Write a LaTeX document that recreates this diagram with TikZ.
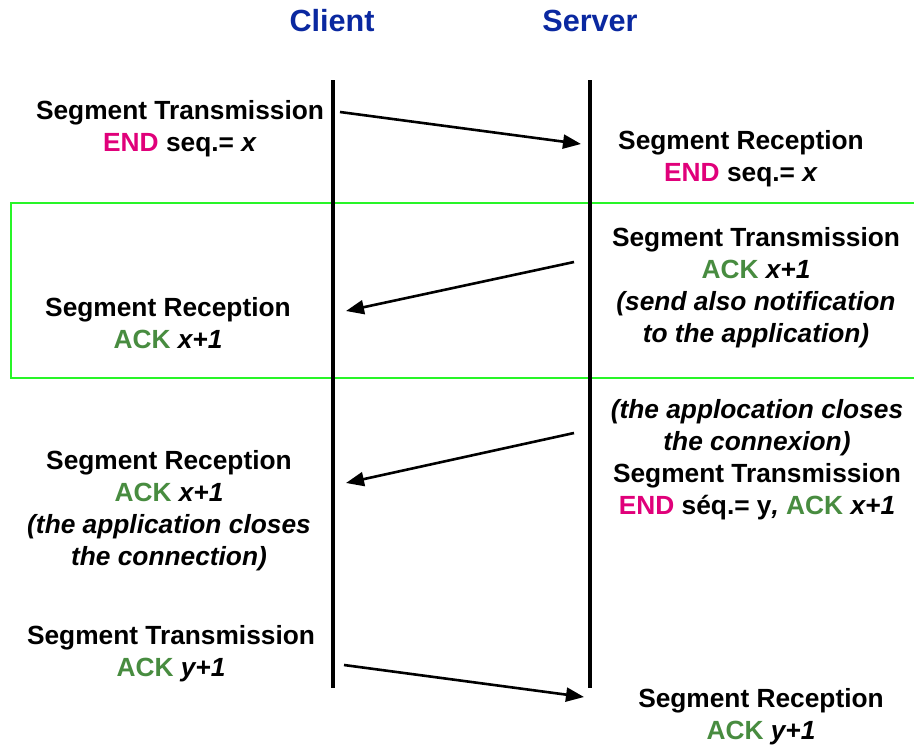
\documentclass[tikz,border=0pt]{standalone}
\usepackage{fontspec}
\setmainfont{Liberation Sans}
\usetikzlibrary{arrows.meta}
\definecolor{endc}{RGB}{224,0,122}
\definecolor{ackc}{RGB}{72,140,64}
\definecolor{titlec}{RGB}{10,40,160}
\definecolor{framec}{RGB}{40,245,40}
\newcommand{\END}{\textcolor{endc}{END}}
\newcommand{\ACK}{\textcolor{ackc}{ACK}}
\begin{document}
\begin{tikzpicture}[x=1pt,y=-1pt,
  lbl/.style={align=center,inner sep=0pt,font=\fontsize{26.3}{32}\selectfont\bfseries},
  ttl/.style={inner sep=0pt,text=titlec,font=\fontsize{30.6}{36}\selectfont\bfseries},
  life/.style={line width=3.5pt},
  msg/.style={line width=2.6pt,-{Triangle[length=18pt,width=14pt]}},
  frame/.style={draw=framec,line width=2.4pt}]
\useasboundingbox (0,0) rectangle (914,745);
% green frame
\draw[frame] (11,203) rectangle (935,378);
% titles
\node[ttl] (client) at (332,21) {Client};
\node[ttl] (server) at (590,21) {Server};
% lifelines
\coordinate (ct) at (333,80); \coordinate (cb) at (333,688);
\coordinate (st) at (590,80); \coordinate (sb) at (590,688);
\draw[life] (ct) -- (cb);
\draw[life] (st) -- (sb);
% messages
\coordinate (m1s) at (340,112); \coordinate (m1e) at (581,144);
\coordinate (m2s) at (574,262); \coordinate (m2e) at (346,311);
\coordinate (m3s) at (574,433); \coordinate (m3e) at (346,483);
\coordinate (m4s) at (344,665); \coordinate (m4e) at (584,697);
\draw[msg] (m1s) -- (m1e);
\draw[msg] (m2s) -- (m2e);
\draw[msg] (m3s) -- (m3e);
\draw[msg] (m4s) -- (m4e);
% labels
\node[lbl] (l1) at (180,129) {Segment Transmission\\ \END{} seq.= \textit{x}};
\node[lbl] (r1) at (741,159) {Segment Reception\\ \END{} seq.= \textit{x}};
\node[lbl] (r2) at (756,288) {Segment Transmission\\ \ACK{} \textit{x+1}\\ \textit{(send also notification}\\ \textit{to the application)}};
\node[lbl] (l2) at (168,323) {Segment Reception\\ \ACK{} \textit{x+1}};
\node[lbl] (r3) at (757,460) {\textit{(the applocation closes}\\ \textit{the connexion)}\\ Segment Transmission\\ \END{} séq.= y\textit{,} \ACK{} \textit{x+1}};
\node[lbl] (l3) at (169,511) {Segment Reception\\ \ACK{} \textit{x+1}\\ \textit{(the application closes}\\ \textit{the connection)}};
\node[lbl] (l4) at (171,654) {Segment Transmission\\ \ACK{} \textit{y+1}};
\node[lbl] (r4) at (761,717) {Segment Reception\\ \ACK{} \textit{y+1}};
\end{tikzpicture}
\end{document}
